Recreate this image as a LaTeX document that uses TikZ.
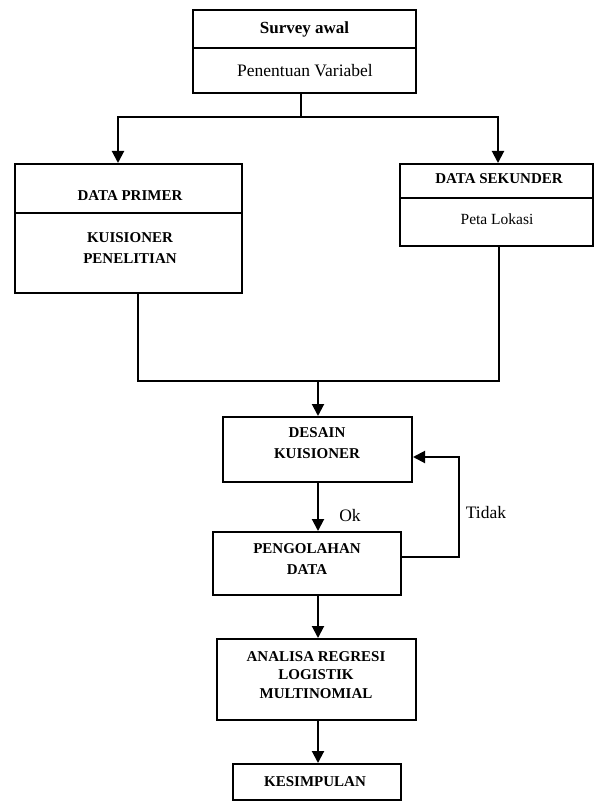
\documentclass[tikz,border=0pt]{standalone}
\usepackage{fontspec}
\setmainfont{Liberation Serif}
\usetikzlibrary{arrows.meta}
\tikzset{
  box/.style={draw, line width=2pt, inner sep=0pt},
  capt/.style={font=\fontsize{15}{20.5}\selectfont\bfseries, align=center, inner sep=0pt},
  plain/.style={font=\fontsize{17.5}{20}\selectfont, inner sep=0pt},
  conn/.style={line width=2pt},
  arr/.style={line width=2pt, -{Triangle[length=12pt,width=12pt]}},
}
\begin{document}
\begin{tikzpicture}[x=1pt,y=-1pt]
\useasboundingbox (0,0) rectangle (595,802);
% top box
\node[box, minimum width=223pt, minimum height=38pt] (top1) at (304.5,29) {};
\node[font=\fontsize{17}{20}\selectfont\bfseries, inner sep=0pt] (top1t) at (304.5,29) {Survey awal};
\node[box, minimum width=223pt, minimum height=45pt] (top2) at (304.5,70.5) {};
\node[plain] (top2t) at (305,71) {Penentuan Variabel};
% data primer
\node[box, minimum width=227pt, minimum height=49pt] (pri1) at (128.5,188.5) {};
\node[capt] (pri1t) at (130,196) {DATA PRIMER};
\node[box, minimum width=227pt, minimum height=80pt] (pri2) at (128.5,253) {};
\node[capt] (pri2t) at (130,248) {KUISIONER\\PENELITIAN};
% data sekunder
\node[box, minimum width=193pt, minimum height=34pt] (sek1) at (496.5,181) {};
\node[capt] (sek1t) at (499,179) {DATA SEKUNDER};
\node[box, minimum width=193pt, minimum height=48pt] (sek2) at (496.5,222) {};
\node[font=\fontsize{15.5}{18}\selectfont, inner sep=0pt] (sek2t) at (497,219) {Peta Lokasi};
% desain
\node[box, minimum width=189pt, minimum height=65pt] (des) at (317.5,449.5) {};
\node[capt] (dest) at (317,443) {DESAIN\\KUISIONER};
% pengolahan
\node[box, minimum width=188pt, minimum height=63pt] (pen) at (307,563.5) {};
\node[capt] (pent) at (307,559) {PENGOLAHAN\\DATA};
% analisa
\node[box, minimum width=199pt, minimum height=81pt] (ana) at (316.5,679.5) {};
\node[capt, font=\fontsize{15}{18.5}\selectfont\bfseries] (anat) at (316,675) {ANALISA REGRESI\\LOGISTIK\\MULTINOMIAL};
% kesimpulan
\node[box, minimum width=168pt, minimum height=36pt] (kes) at (317,782) {};
\node[capt] (kest) at (315,782) {KESIMPULAN};
% labels
\node[plain] (ok) at (350,516) {Ok};
\node[plain] (tidak) at (486,513) {Tidak};
% coordinates
\coordinate (split) at (301,117);
\coordinate (lx) at (118,117);
\coordinate (rx) at (498,117);
\coordinate (mpl) at (138,381);
\coordinate (mpr) at (499,381);
\coordinate (mc) at (318,381);
\coordinate (cx) at (318,0);
\coordinate (fb1) at (459,557);
\coordinate (fb2) at (459,457);
% connectors
\draw[conn] (top2.south -| split) -- (split);
\draw[arr] (split) -- (lx) -- (lx |- pri1.north);
\draw[arr] (split) -- (rx) -- (rx |- sek1.north);
\draw[conn] (pri2.south -| mpl) -- (mpl) -- (mpr) -- (sek2.south -| mpr);
\draw[arr] (mc) -- (des.north -| mc);
\draw[arr] (des.south -| cx) -- (pen.north -| cx);
\draw[arr] (pen.east |- fb1) -- (fb1) -- (fb2) -- (des.east |- fb2);
\draw[arr] (pen.south -| cx) -- (ana.north -| cx);
\draw[arr] (ana.south -| cx) -- (kes.north -| cx);
\end{tikzpicture}
\end{document}
